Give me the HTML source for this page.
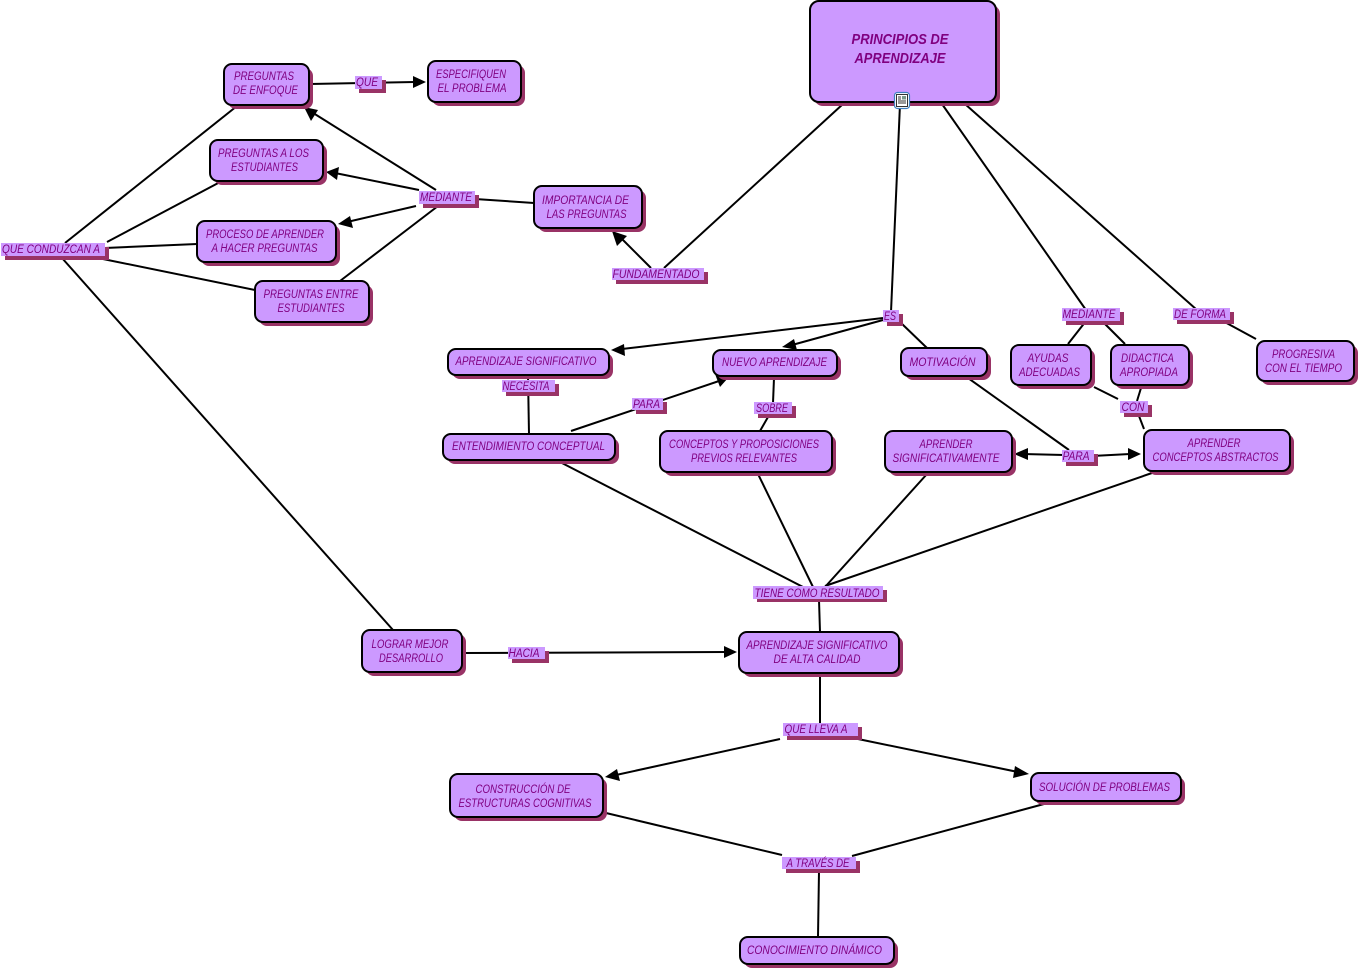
<!DOCTYPE html>
<html><head><meta charset="utf-8"><style>
html,body{margin:0;padding:0;background:#fff;width:1360px;height:970px;overflow:hidden}
svg{display:block}
.l line{stroke:#000;stroke-width:2}
.a polygon{fill:#000}
.s{fill:#993366}
.n{fill:#CC99FF;stroke:#000;stroke-width:2}
.b{fill:#CC99FF}
text{font-family:"Liberation Sans",sans-serif;font-style:italic;font-size:11.5px;fill:#800080;text-anchor:middle}
.h{font-size:15px;font-weight:bold}
</style></head><body>
<svg width="1360" height="970" viewBox="0 0 1360 970" xmlns="http://www.w3.org/2000/svg">
<g class="l">
<line x1="310" y1="84" x2="415" y2="82"/>
<line x1="237" y1="106" x2="65" y2="243"/>
<line x1="222" y1="181" x2="107" y2="242"/>
<line x1="197" y1="244" x2="105" y2="248"/>
<line x1="255" y1="290" x2="98" y2="258"/>
<line x1="62" y1="258" x2="393" y2="630"/>
<line x1="436" y1="190" x2="310" y2="111"/>
<line x1="419" y1="190" x2="335" y2="173"/>
<line x1="416" y1="206" x2="347" y2="222"/>
<line x1="438" y1="206" x2="340" y2="281"/>
<line x1="475" y1="199" x2="534" y2="203"/>
<line x1="651" y1="268" x2="620" y2="237"/>
<line x1="664" y1="268" x2="843" y2="104"/>
<line x1="900" y1="104" x2="891" y2="312"/>
<line x1="942" y1="104" x2="1086" y2="310"/>
<line x1="965" y1="104" x2="1197" y2="310"/>
<line x1="1221" y1="320" x2="1256" y2="339"/>
<line x1="883" y1="318" x2="622" y2="349"/>
<line x1="883" y1="320" x2="792" y2="345"/>
<line x1="900" y1="322" x2="927" y2="348"/>
<line x1="1086" y1="321" x2="1068" y2="344"/>
<line x1="1102" y1="321" x2="1125" y2="344"/>
<line x1="1094" y1="387" x2="1118" y2="399"/>
<line x1="1141" y1="388" x2="1137" y2="401"/>
<line x1="1139" y1="416" x2="1144" y2="429"/>
<line x1="528" y1="376" x2="529" y2="434"/>
<line x1="571" y1="431" x2="719" y2="381"/>
<line x1="774" y1="378" x2="773" y2="403"/>
<line x1="768" y1="417" x2="760" y2="431"/>
<line x1="968" y1="378" x2="1069" y2="450"/>
<line x1="1023" y1="454" x2="1064" y2="455"/>
<line x1="1092" y1="456" x2="1130" y2="454"/>
<line x1="560" y1="462" x2="803" y2="587"/>
<line x1="758" y1="474" x2="813" y2="587"/>
<line x1="927" y1="474" x2="825" y2="587"/>
<line x1="1152" y1="473" x2="825" y2="586"/>
<line x1="819" y1="600" x2="820" y2="632"/>
<line x1="463" y1="653" x2="728" y2="652"/>
<line x1="820" y1="675" x2="820" y2="723"/>
<line x1="780" y1="739" x2="616" y2="775"/>
<line x1="858" y1="739" x2="1018" y2="772"/>
<line x1="606" y1="813" x2="782" y2="855"/>
<line x1="1044" y1="804" x2="852" y2="856"/>
<line x1="819" y1="871" x2="818" y2="937"/>
</g>
<g class="a">
<polygon points="426,82 413,76 413,88"/>
<polygon points="304,107 318,110 311,121"/>
<polygon points="326,172 339,167 337,180"/>
<polygon points="338,224 350,216 353,228"/>
<polygon points="612,231 627,236 617,246"/>
<polygon points="611,350 624,344 625,356"/>
<polygon points="782,347 794,339 797,350"/>
<polygon points="728,378 715,374 720,387"/>
<polygon points="1014,454 1028,448 1028,460"/>
<polygon points="1141,454 1128,448 1128,460"/>
<polygon points="737,652 724,646 724,658"/>
<polygon points="605,777 617,769 620,781"/>
<polygon points="1029,774 1015,766 1013,778"/>
</g>

<!-- nodes -->
<rect class="s" x="814" y="5" width="186" height="101" rx="9"/><rect class="n" x="810" y="1" width="186" height="101" rx="9"/>
<text class="h" x="900" y="44" textLength="97" lengthAdjust="spacingAndGlyphs">PRINCIPIOS DE</text>
<text class="h" x="900" y="63" textLength="91" lengthAdjust="spacingAndGlyphs">APRENDIZAJE</text>

<rect class="s" x="228" y="68" width="85" height="41" rx="8"/><rect class="n" x="224" y="64" width="85" height="41" rx="8"/>
<text x="264" y="80" textLength="60" lengthAdjust="spacingAndGlyphs">PREGUNTAS</text>
<text x="265.500" y="94" textLength="65" lengthAdjust="spacingAndGlyphs">DE ENFOQUE</text>

<rect class="s" x="432" y="65" width="93" height="41" rx="8"/><rect class="n" x="428" y="61" width="93" height="41" rx="8"/>
<text x="471" y="78" textLength="70" lengthAdjust="spacingAndGlyphs">ESPECIFIQUEN</text>
<text x="472" y="92" textLength="69" lengthAdjust="spacingAndGlyphs">EL PROBLEMA</text>

<rect class="s" x="214" y="144" width="113" height="41" rx="8"/><rect class="n" x="210" y="140" width="113" height="41" rx="8"/>
<text x="263.500" y="157" textLength="91" lengthAdjust="spacingAndGlyphs">PREGUNTAS A LOS</text>
<text x="264.500" y="171" textLength="67" lengthAdjust="spacingAndGlyphs">ESTUDIANTES</text>

<rect class="s" x="201" y="225" width="139" height="41" rx="8"/><rect class="n" x="197" y="221" width="139" height="41" rx="8"/>
<text x="265" y="238" textLength="118" lengthAdjust="spacingAndGlyphs">PROCESO DE APRENDER</text>
<text x="264.500" y="252" textLength="106" lengthAdjust="spacingAndGlyphs">A HACER PREGUNTAS</text>

<rect class="s" x="259" y="285" width="114" height="41" rx="8"/><rect class="n" x="255" y="281" width="114" height="41" rx="8"/>
<text x="311" y="298" textLength="95" lengthAdjust="spacingAndGlyphs">PREGUNTAS ENTRE</text>
<text x="311" y="312" textLength="67" lengthAdjust="spacingAndGlyphs">ESTUDIANTES</text>

<rect class="s" x="538" y="190" width="108" height="42" rx="8"/><rect class="n" x="534" y="186" width="108" height="42" rx="8"/>
<text x="585.500" y="204" textLength="87" lengthAdjust="spacingAndGlyphs">IMPORTANCIA DE</text>
<text x="586.500" y="218" textLength="80" lengthAdjust="spacingAndGlyphs">LAS PREGUNTAS</text>

<rect class="s" x="452" y="353" width="161" height="26" rx="8"/><rect class="n" x="448" y="349" width="161" height="26" rx="8"/>
<text x="526" y="365" textLength="141" lengthAdjust="spacingAndGlyphs">APRENDIZAJE SIGNIFICATIVO</text>

<rect class="s" x="717" y="354" width="124" height="26" rx="8"/><rect class="n" x="713" y="350" width="124" height="26" rx="8"/>
<text x="774.500" y="366" textLength="105" lengthAdjust="spacingAndGlyphs">NUEVO APRENDIZAJE</text>

<rect class="s" x="905" y="352" width="86" height="28" rx="8"/><rect class="n" x="901" y="348" width="86" height="28" rx="8"/>
<text x="942.500" y="366" textLength="66" lengthAdjust="spacingAndGlyphs">MOTIVACIÓN</text>

<rect class="s" x="1015" y="349" width="80" height="40" rx="8"/><rect class="n" x="1011" y="345" width="80" height="40" rx="8"/>
<text x="1048" y="362" textLength="41" lengthAdjust="spacingAndGlyphs">AYUDAS</text>
<text x="1049.500" y="376" textLength="61" lengthAdjust="spacingAndGlyphs">ADECUADAS</text>

<rect class="s" x="1115" y="349" width="78" height="40" rx="8"/><rect class="n" x="1111" y="345" width="78" height="40" rx="8"/>
<text x="1147.500" y="362" textLength="53" lengthAdjust="spacingAndGlyphs">DIDACTICA</text>
<text x="1149" y="376" textLength="58" lengthAdjust="spacingAndGlyphs">APROPIADA</text>

<rect class="s" x="1261" y="345" width="97" height="40" rx="8"/><rect class="n" x="1257" y="341" width="97" height="40" rx="8"/>
<text x="1303.500" y="358" textLength="63" lengthAdjust="spacingAndGlyphs">PROGRESIVA</text>
<text x="1303.500" y="372" textLength="77" lengthAdjust="spacingAndGlyphs">CON EL TIEMPO</text>

<rect class="s" x="447" y="438" width="172" height="26" rx="8"/><rect class="n" x="443" y="434" width="172" height="26" rx="8"/>
<text x="528.500" y="450" textLength="153" lengthAdjust="spacingAndGlyphs">ENTENDIMIENTO CONCEPTUAL</text>

<rect class="s" x="664" y="435" width="172" height="41" rx="8"/><rect class="n" x="660" y="431" width="172" height="41" rx="8"/>
<text x="744" y="448" textLength="150" lengthAdjust="spacingAndGlyphs">CONCEPTOS Y PROPOSICIONES</text>
<text x="744" y="462" textLength="106" lengthAdjust="spacingAndGlyphs">PREVIOS RELEVANTES</text>

<rect class="s" x="889" y="435" width="127" height="41" rx="8"/><rect class="n" x="885" y="431" width="127" height="41" rx="8"/>
<text x="946" y="448" textLength="53" lengthAdjust="spacingAndGlyphs">APRENDER</text>
<text x="946" y="462" textLength="107" lengthAdjust="spacingAndGlyphs">SIGNIFICATIVAMENTE</text>

<rect class="s" x="1148" y="434" width="146" height="41" rx="8"/><rect class="n" x="1144" y="430" width="146" height="41" rx="8"/>
<text x="1214" y="447" textLength="53" lengthAdjust="spacingAndGlyphs">APRENDER</text>
<text x="1215.500" y="461" textLength="126" lengthAdjust="spacingAndGlyphs">CONCEPTOS ABSTRACTOS</text>

<rect class="s" x="366" y="634" width="100" height="42" rx="8"/><rect class="n" x="362" y="630" width="100" height="42" rx="8"/>
<text x="410" y="648" textLength="77" lengthAdjust="spacingAndGlyphs">LOGRAR MEJOR</text>
<text x="411" y="662" textLength="64" lengthAdjust="spacingAndGlyphs">DESARROLLO</text>

<rect class="s" x="743" y="636" width="160" height="41" rx="8"/><rect class="n" x="739" y="632" width="160" height="41" rx="8"/>
<text x="817" y="649" textLength="141" lengthAdjust="spacingAndGlyphs">APRENDIZAJE SIGNIFICATIVO</text>
<text x="817" y="663" textLength="87" lengthAdjust="spacingAndGlyphs">DE ALTA CALIDAD</text>

<rect class="s" x="454" y="778" width="153" height="43" rx="8"/><rect class="n" x="450" y="774" width="153" height="43" rx="8"/>
<text x="523" y="793" textLength="95" lengthAdjust="spacingAndGlyphs">CONSTRUCCIÓN DE</text>
<text x="525" y="807" textLength="133" lengthAdjust="spacingAndGlyphs">ESTRUCTURAS COGNITIVAS</text>

<rect class="s" x="1035" y="777" width="150" height="28" rx="8"/><rect class="n" x="1031" y="773" width="150" height="28" rx="8"/>
<text x="1104.500" y="791" textLength="131" lengthAdjust="spacingAndGlyphs">SOLUCIÓN DE PROBLEMAS</text>

<rect class="s" x="744" y="941" width="154" height="27" rx="8"/><rect class="n" x="740" y="937" width="154" height="27" rx="8"/>
<text x="814.500" y="954" textLength="135" lengthAdjust="spacingAndGlyphs">CONOCIMIENTO DINÁMICO</text>

<!-- labels -->
<rect class="s" x="359" y="80" width="27" height="13"/><rect class="b" x="355" y="76" width="27" height="13"/>
<text x="367" y="86" textLength="22" lengthAdjust="spacingAndGlyphs">QUE</text>

<rect class="s" x="423" y="195" width="56" height="13"/><rect class="b" x="419" y="191" width="56" height="13"/>
<text x="446" y="201" textLength="52" lengthAdjust="spacingAndGlyphs">MEDIANTE</text>

<rect class="s" x="616" y="272" width="92" height="12"/><rect class="b" x="612" y="268" width="92" height="12"/>
<text x="656" y="278" textLength="87" lengthAdjust="spacingAndGlyphs">FUNDAMENTADO</text>

<rect class="s" x="5" y="247" width="104" height="13"/><rect class="b" x="1" y="243" width="104" height="13"/>
<text x="51" y="253" textLength="98" lengthAdjust="spacingAndGlyphs">QUE CONDUZCAN A</text>

<rect class="s" x="887" y="314" width="16" height="12"/><rect class="b" x="883" y="310" width="16" height="12"/>
<text x="890" y="320" textLength="12" lengthAdjust="spacingAndGlyphs">ES</text>

<rect class="s" x="1066" y="312" width="58" height="13"/><rect class="b" x="1062" y="308" width="58" height="13"/>
<text x="1089" y="318" textLength="53" lengthAdjust="spacingAndGlyphs">MEDIANTE</text>

<rect class="s" x="1177" y="312" width="57" height="12"/><rect class="b" x="1173" y="308" width="57" height="12"/>
<text x="1200" y="318" textLength="52" lengthAdjust="spacingAndGlyphs">DE FORMA</text>

<rect class="s" x="506" y="384" width="53" height="12"/><rect class="b" x="502" y="380" width="53" height="12"/>
<text x="526" y="390" textLength="47" lengthAdjust="spacingAndGlyphs">NECESITA</text>

<rect class="s" x="636" y="402" width="31" height="12"/><rect class="b" x="632" y="398" width="31" height="12"/>
<text x="646.500" y="408" textLength="27" lengthAdjust="spacingAndGlyphs">PARA</text>

<rect class="s" x="758" y="406" width="38" height="12"/><rect class="b" x="754" y="402" width="38" height="12"/>
<text x="772" y="412" textLength="32" lengthAdjust="spacingAndGlyphs">SOBRE</text>

<rect class="s" x="1124" y="405" width="28" height="12"/><rect class="b" x="1120" y="401" width="28" height="12"/>
<text x="1133" y="411" textLength="23" lengthAdjust="spacingAndGlyphs">CON</text>

<rect class="s" x="1066" y="454" width="32" height="12"/><rect class="b" x="1062" y="450" width="32" height="12"/>
<text x="1076" y="460" textLength="27" lengthAdjust="spacingAndGlyphs">PARA</text>

<rect class="s" x="757" y="590" width="130" height="12"/><rect class="b" x="753" y="586" width="130" height="13"/>
<text x="817" y="597" textLength="125" lengthAdjust="spacingAndGlyphs">TIENE COMO RESULTADO</text>

<rect class="s" x="512" y="651" width="37" height="12"/><rect class="b" x="508" y="647" width="37" height="12"/>
<text x="524" y="657" textLength="31" lengthAdjust="spacingAndGlyphs">HACIA</text>

<rect class="s" x="787" y="727" width="75" height="13"/><rect class="b" x="783" y="723" width="75" height="13"/>
<text x="816" y="733" textLength="63" lengthAdjust="spacingAndGlyphs">QUE LLEVA A</text>

<rect class="s" x="786" y="861" width="74" height="12"/><rect class="b" x="782" y="857" width="74" height="12"/>
<text x="818" y="867" textLength="63" lengthAdjust="spacingAndGlyphs">A TRAVÉS DE</text>

<!-- icon -->
<rect x="894.500" y="92.500" width="15" height="16" rx="3" fill="#fff" stroke="#3f7fc0" stroke-width="1.200"/>
<rect x="896.500" y="94.500" width="11" height="12" fill="#fff" stroke="#000" stroke-width="0.800"/>
<g stroke="#000" stroke-width="0.800"><line x1="898" y1="97" x2="901" y2="97"/><line x1="898" y1="99" x2="901" y2="99"/><line x1="898" y1="101" x2="906" y2="101"/><line x1="898" y1="103" x2="906" y2="103"/></g>
<rect x="902" y="96" width="4" height="3.500" fill="#7a9a8a"/>
</svg>
</body></html>
